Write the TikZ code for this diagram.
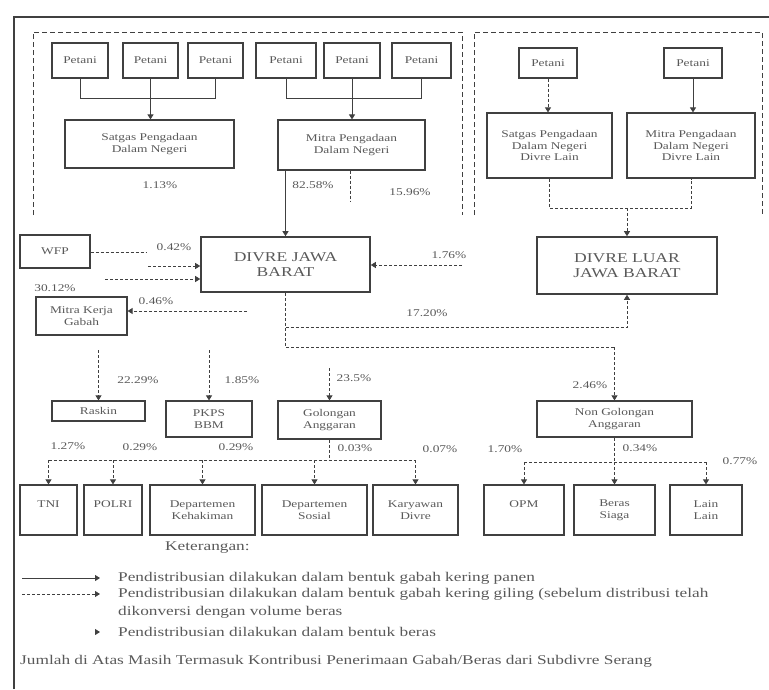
\documentclass[tikz,border=0pt]{standalone}
\usepackage{fontspec}
\setmainfont[FakeStretch=1.3]{Liberation Serif}
\usetikzlibrary{arrows.meta}
\definecolor{ink}{gray}{0.25}
\definecolor{lab}{gray}{0.35}
\tikzset{
  bx/.style={draw=ink, line width=1.2pt, align=center, inner sep=1pt, font=\fontsize{10.3}{11.5}\selectfont, text=lab},
  bigbx/.style={bx, line width=1.6pt, font=\fontsize{13.5}{15}\selectfont},
  dl/.style={draw=ink, line width=0.8pt, dash pattern=on 3pt off 2pt},
  sl/.style={draw=ink, line width=1pt},
  tip/.style={-{Triangle[width=6pt,length=5pt]}},
  pct/.style={font=\fontsize{10.3}{11}\selectfont, text=lab, inner sep=0pt},
  frm/.style={draw=ink, line width=1pt, dash pattern=on 5pt off 3pt},
  leg/.style={font=\fontsize{13.3}{14}\selectfont, text=lab, anchor=west, inner sep=0pt}
}
\begin{document}
\begin{tikzpicture}[x=1pt,y=-1pt]
\useasboundingbox (0,0) rectangle (769,689);
% outer frame
\draw[ink, line width=1.4pt] (14,689) -- (14,17) -- (769,17);
% dashed groups
\draw[frm] (33,215) -- (33,32) -- (462,32) -- (462,215);
\draw[frm] (474,215) -- (474,32) -- (762,32) -- (762,215);
% top farmers left
\node[bx, minimum width=56pt, minimum height=35pt] (P1) at (80,60.5) {Petani};
\node[bx, minimum width=55pt, minimum height=35pt] (P2) at (150.5,60.5) {Petani};
\node[bx, minimum width=55pt, minimum height=35pt] (P3) at (215.5,60.5) {Petani};
\node[bx, minimum width=60pt, minimum height=35pt] (P4) at (286,60.5) {Petani};
\node[bx, minimum width=56pt, minimum height=35pt] (P5) at (352,60.5) {Petani};
\node[bx, minimum width=59pt, minimum height=35pt] (P6) at (421.5,60.5) {Petani};
\node[bx, minimum width=169pt, minimum height=48pt] (Sat) at (149.5,144) {Satgas Pengadaan\\Dalam Negeri};
\node[bx, minimum width=147pt, minimum height=50pt] (Mit) at (351.5,145) {Mitra Pengadaan\\Dalam Negeri};
% top farmers right
\node[bx, minimum width=58pt, minimum height=30pt] (RP1) at (548,63) {Petani};
\node[bx, minimum width=58pt, minimum height=30pt] (RP2) at (693,63) {Petani};
\node[bx, minimum width=125pt, minimum height=65pt] (SatL) at (549.5,145.5) {Satgas Pengadaan\\Dalam Negeri\\Divre Lain};
\node[bx, minimum width=128pt, minimum height=65pt] (MitL) at (691,145.5) {Mitra Pengadaan\\Dalam Negeri\\Divre Lain};
% divre
\node[bigbx, minimum width=169pt, minimum height=55pt] (DJB) at (285.5,264.5) {DIVRE JAWA\\BARAT};
\node[bigbx, minimum width=180pt, minimum height=57pt] (DL) at (627,265.5) {DIVRE LUAR\\JAWA BARAT};
\node[bx, minimum width=70pt, minimum height=33pt] (WFP) at (55,251.5) {WFP};
\node[bx, minimum width=91pt, minimum height=38pt] (MKG) at (81.5,316) {Mitra Kerja\\Gabah};
% third row
\node[bx, minimum width=93pt, minimum height=20pt] (Ras) at (98.5,411) {Raskin};
\node[bx, minimum width=86pt, minimum height=36pt] (PK) at (209,419) {PKPS\\BBM};
\node[bx, minimum width=103pt, minimum height=38pt] (GA) at (329.5,420) {Golongan\\Anggaran};
\node[bx, minimum width=155pt, minimum height=36pt] (NGA) at (614.5,419) {Non Golongan\\Anggaran};
% bottom row
\node[bx, minimum width=57pt, minimum height=50pt] (TNI) at (48.5,510) {TNI\\\phantom{X}};
\node[bx, minimum width=58pt, minimum height=50pt] (POL) at (113,510) {POLRI\\\phantom{X}};
\node[bx, minimum width=105pt, minimum height=50pt] (DK) at (202.5,510) {Departemen\\Kehakiman};
\node[bx, minimum width=105pt, minimum height=50pt] (DS) at (314.5,510) {Departemen\\Sosial};
\node[bx, minimum width=85pt, minimum height=50pt] (KD) at (415.5,510) {Karyawan\\Divre};
\node[bx, minimum width=80pt, minimum height=50pt] (OPM) at (524,510) {OPM\\\phantom{X}};
\node[bx, minimum width=81pt, minimum height=50pt] (BS) at (614.5,510) {Beras\\Siaga};
\node[bx, minimum width=72pt, minimum height=50pt] (LL) at (706,510) {Lain\\Lain};
% top connectors
\draw[sl] (P1.south) -- ++(0,20) -| (P3.south);
\draw[sl,tip] (P2.south) -- (P2.south |- Sat.north);
\draw[sl] (P4.south) -- ++(0,20) -| (P6.south);
\draw[sl,tip] (P5.south) -- (P5.south |- Mit.north);
\draw[dl,tip] (RP1.south) -- (RP1.south |- SatL.north);
\draw[sl,tip] (RP2.south) -- (RP2.south |- MitL.north);
\coordinate (jl) at (SatL.south |- 0,208);
\coordinate (jn) at (DL.north |- 0,208);
\draw[dl] (SatL.south) -- (jl) -| (MitL.south);
\draw[dl,tip] (jn) -- (DL.north);
\draw[sl,tip] (DJB.north |- Mit.south) -- (DJB.north);
\coordinate (md) at (350,202);
\draw[dl] (md |- Mit.south) -- (md);
\node[pct] (l1) at (160,185) {1.13\%};
\node[pct] (l2) at (313,185) {82.58\%};
\node[pct] (l3) at (410,192) {15.96\%};
% left inputs
\coordinate (w1) at (147,252);
\draw[dl] (WFP.east |- w1) -- (w1);
\node[pct] (l4) at (174,247) {0.42\%};
\coordinate (w2) at (148,266);
\draw[dl,tip] (w2) -- (w2 -| DJB.west);
\coordinate (w3) at (105,279);
\draw[dl,tip] (w3) -- (w3 -| DJB.west);
\node[pct] (l5) at (55,288) {30.12\%};
\coordinate (m1) at (247,311);
\draw[dl,tip] (m1) -- (m1 -| MKG.east);
\node[pct] (l6) at (156,301) {0.46\%};
\coordinate (r1) at (462,265);
\draw[dl,tip] (r1) -- (r1 -| DJB.east);
\node[pct] (l7) at (449,255) {1.76\%};
% branches from DIVRE JAWA BARAT
\coordinate (b1) at (DJB.south |- 0,327);
\coordinate (b2) at (DJB.south |- 0,347);
\coordinate (b3) at (DL.south |- 0,327);
\coordinate (b4) at (NGA.north |- 0,347);
\draw[dl] (DJB.south) -- (b2) -- (b4);
\draw[dl,tip] (b4) -- (NGA.north);
\draw[dl,tip] (b1) -- (b3) -- (DL.south);
\node[pct] (l8) at (427,313) {17.20\%};
\node[pct] (l9) at (590,385) {2.46\%};
\coordinate (k1) at (Ras.north |- 0,350);
\coordinate (k2) at (PK.north |- 0,350);
\coordinate (k3) at (GA.north |- 0,368);
\draw[dl,tip] (k1) -- (Ras.north);
\draw[dl,tip] (k2) -- (PK.north);
\draw[dl,tip] (k3) -- (GA.north);
\node[pct] (l10) at (138,380) {22.29\%};
\node[pct] (l11) at (242,380) {1.85\%};
\node[pct] (l12) at (354,378) {23.5\%};
% bottom left distribution
\coordinate (g1) at (GA.south |- 0,460);
\coordinate (gL) at (TNI.north |- 0,460);
\coordinate (gR) at (KD.north |- 0,460);
\draw[dl] (GA.south) -- (g1);
\draw[dl] (gL) -- (gR);
\draw[dl,tip] (gL) -- (TNI.north);
\draw[dl,tip] (POL.north |- 0,460) -- (POL.north);
\draw[dl,tip] (DK.north |- 0,460) -- (DK.north);
\draw[dl,tip] (DS.north |- 0,460) -- (DS.north);
\draw[dl,tip] (gR) -- (KD.north);
\node[pct] (l13) at (68,446) {1.27\%};
\node[pct] (l14) at (140,447) {0.29\%};
\node[pct] (l15) at (236,447) {0.29\%};
\node[pct] (l16) at (355,448) {0.03\%};
\node[pct] (l17) at (440,449) {0.07\%};
% bottom right distribution
\coordinate (h1) at (NGA.south |- 0,462);
\coordinate (hL) at (OPM.north |- 0,462);
\coordinate (hR) at (LL.north |- 0,462);
\draw[dl] (NGA.south) -- (h1);
\draw[dl] (hL) -- (hR);
\draw[dl,tip] (hL) -- (OPM.north);
\draw[dl,tip] (h1) -- (BS.north);
\draw[dl,tip] (hR) -- (LL.north);
\node[pct] (l18) at (505,449) {1.70\%};
\node[pct] (l19) at (640,448) {0.34\%};
\node[pct] (l20) at (740,461) {0.77\%};
% legend
\node[leg] (kt) at (165,548) {Keterangan:};
\coordinate (a1) at (22,578); \coordinate (a2) at (100,578);
\draw[sl,tip] (a1) -- (a2);
\node[leg] (t1) at (118,578) {Pendistribusian dilakukan dalam bentuk gabah kering panen};
\coordinate (a3) at (22,594); \coordinate (a4) at (100,594);
\draw[dl,tip] (a3) -- (a4);
\node[leg] (t2) at (118,594) {Pendistribusian dilakukan dalam bentuk gabah kering giling (sebelum distribusi telah};
\node[leg] (t2b) at (118,612) {dikonversi dengan volume beras};
\coordinate (a5) at (95,632); \coordinate (a6) at (100,632);
\draw[sl,tip] (a5) -- (a6);
\node[leg] (t3) at (118,632) {Pendistribusian dilakukan dalam bentuk beras};
\node[leg] (cap) at (20,661) {Jumlah di Atas Masih Termasuk Kontribusi Penerimaan Gabah/Beras dari Subdivre Serang};
\end{tikzpicture}
\end{document}
